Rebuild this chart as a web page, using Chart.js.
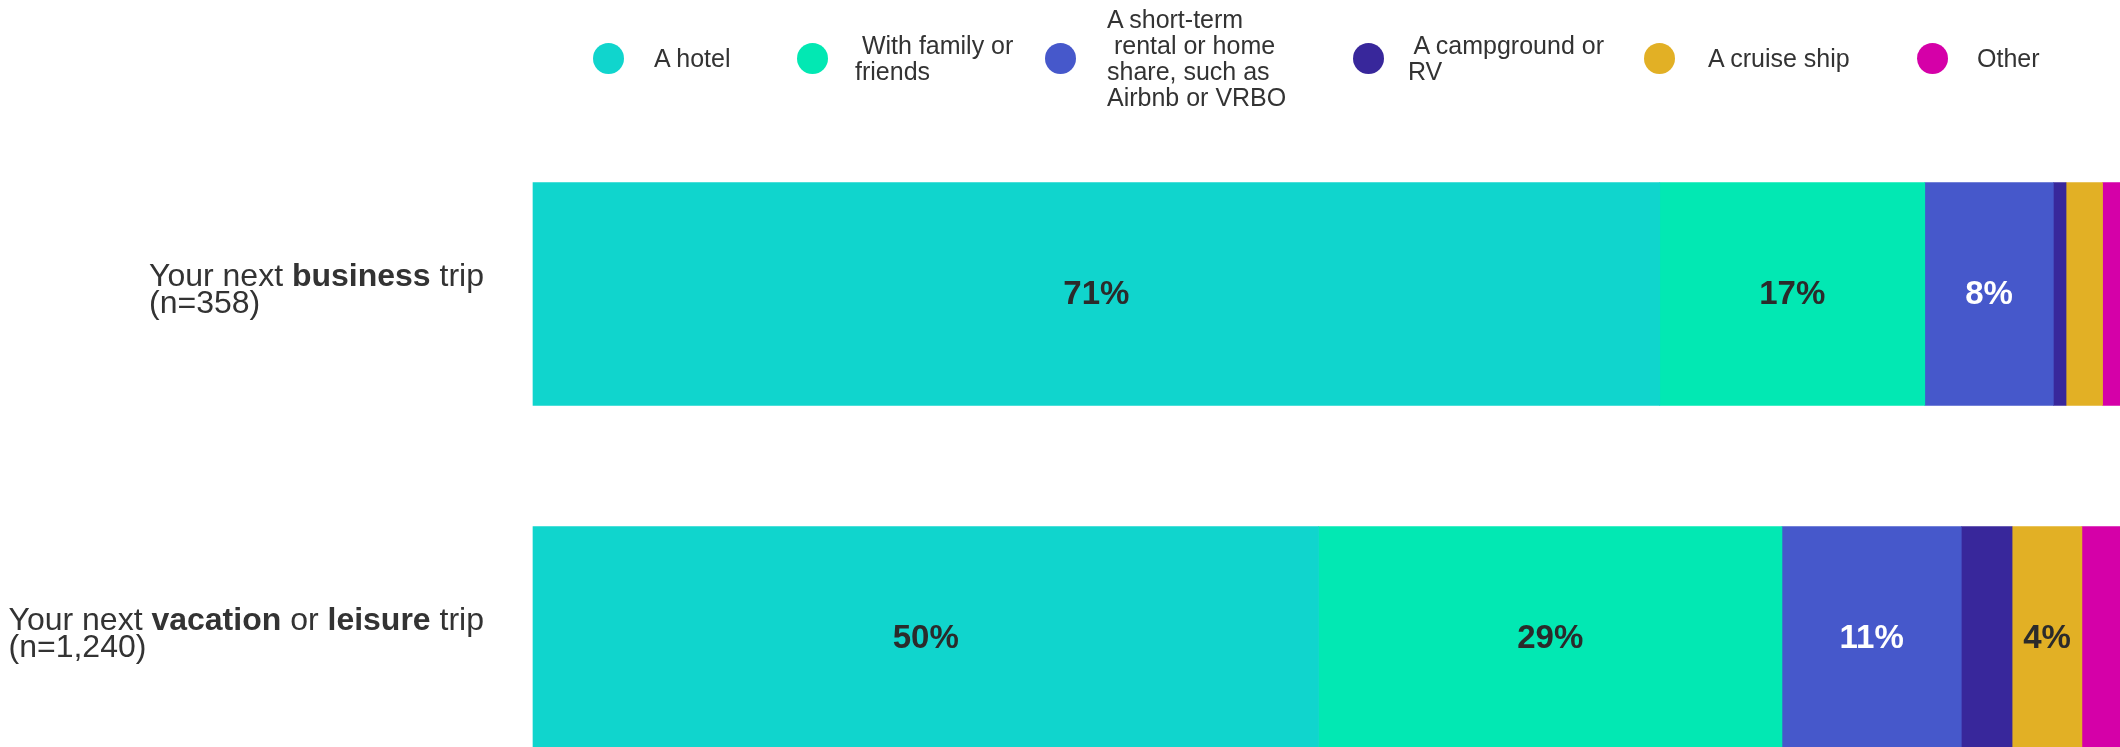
<!DOCTYPE html>
<html>
<head>
<meta charset="utf-8">
<script src="https://cdn.jsdelivr.net/npm/chart.js@4.4.1/dist/chart.umd.min.js"></script>
<style>
  html, body { margin: 0; padding: 0; background: #ffffff; overflow: hidden; }
  #wrap { position: relative; width: 2120px; height: 747px; }
  #c { position: absolute; left: 0; top: 0; }
  .lg-dot { position: absolute; width: 31px; height: 31px; border-radius: 50%; }
  .lg-text { position: absolute; font-family: "Liberation Sans", Arial, sans-serif; font-size: 25px;
             line-height: 26px; color: #333333; white-space: pre; transform: translateY(-50%); }
</style>
</head>
<body>
<div id="wrap">
  <canvas id="c" width="2120" height="747"></canvas>
  <div id="legend"></div>
</div>
<script>
// ---------- data ----------
const categories = ['Your next **business** trip', 'Your next **vacation** or **leisure** trip'];
const sampleSizes = ['(n=358)', '(n=1,240)'];
const seriesNames = ['A hotel', 'With family or friends',
  'A short-term rental or home share, such as Airbnb or VRBO', 'A campground or RV', 'A cruise ship', 'Other'];
const legendLines = [
  ['A hotel'],
  [' With family or', 'friends'],
  ['A short-term', ' rental or home', 'share, such as', 'Airbnb or VRBO'],
  [' A campground or', 'RV'],
  ['A cruise ship'],
  ['Other']
];
const hotel = [71.0, 49.5];
const familyFriends = [16.7, 29.2];
const shortTermRental = [8.1, 11.3];
const campground = [0.8, 3.2];
const cruiseShip = [2.3, 4.4];
const other = [1.1, 2.4];

// ---------- styles ----------
const colors = ['#10d5cd', '#02e8b3', '#4658cb', '#38279b', '#e2b025', '#d500a8'];
const labelColors = ['#2b2b2b', '#2b2b2b', '#ffffff', '#ffffff', '#2b2b2b', '#ffffff'];
const legendDotX = [608, 812, 1060, 1368, 1659, 1932];
const legendTextX = [654, 855, 1107, 1408, 1708, 1977];
const legendY = 58;
const FONT = '"Liberation Sans", Arial, sans-serif';

// ---------- HTML legend ----------
const lg = document.getElementById('legend');
seriesNames.forEach((name, i) => {
  const d = document.createElement('div');
  d.className = 'lg-dot';
  d.style.background = colors[i];
  d.style.left = (legendDotX[i] - 15.5) + 'px';
  d.style.top = (legendY - 15.5) + 'px';
  lg.appendChild(d);
  const t = document.createElement('div');
  t.className = 'lg-text';
  t.style.left = legendTextX[i] + 'px';
  t.style.top = legendY + 'px';
  t.textContent = legendLines[i].join('\n');
  t.title = name;
  lg.appendChild(t);
});

// ---------- plugins ----------
const valueLabels = {
  id: 'valueLabels',
  afterDatasetsDraw(chart) {
    const ctx = chart.ctx;
    ctx.save();
    ctx.font = 'bold 33px ' + FONT;
    ctx.textAlign = 'center';
    ctx.textBaseline = 'middle';
    chart.data.datasets.forEach((ds, di) => {
      const meta = chart.getDatasetMeta(di);
      meta.data.forEach((el, i) => {
        const v = ds.data[i];
        if (v < 3.5) return;
        const p = el.getProps(['x', 'y', 'base'], true);
        ctx.fillStyle = labelColors[di];
        ctx.fillText(Math.round(v) + '%', (p.x + p.base) / 2, p.y + 1);
      });
    });
    ctx.restore();
  }
};

function parseRich(s) {
  const parts = s.split('**');
  return parts.map((t, i) => ({ text: t, bold: i % 2 === 1 })).filter(p => p.text.length);
}

const categoryLabels = {
  id: 'categoryLabels',
  afterDraw(chart) {
    const ctx = chart.ctx;
    const yScale = chart.scales.y;
    const right = chart.chartArea.left - 49;
    ctx.save();
    ctx.fillStyle = '#333333';
    ctx.textBaseline = 'alphabetic';
    ctx.textAlign = 'left';
    categories.forEach((cat, i) => {
      const cy = yScale.getPixelForValue(i);
      const segs = parseRich(cat);
      let w = 0;
      segs.forEach(s => { ctx.font = (s.bold ? 'bold ' : '') + '32px ' + FONT; s.w = ctx.measureText(s.text).width; w += s.w; });
      let x = right - w;
      const x0 = x;
      segs.forEach(s => { ctx.font = (s.bold ? 'bold ' : '') + '32px ' + FONT; ctx.fillText(s.text, x, cy - 8); x += s.w; });
      ctx.font = '32px ' + FONT;
      ctx.fillText(sampleSizes[i], x0, cy + 19);
    });
    ctx.restore();
  }
};

// ---------- chart ----------
const seriesData = [hotel, familyFriends, shortTermRental, campground, cruiseShip, other];
new Chart(document.getElementById('c'), {
  type: 'bar',
  data: {
    labels: categories.map((c, i) => c.replace(/\*\*/g, '') + ' ' + sampleSizes[i]),
    datasets: seriesNames.map((n, i) => ({
      label: n,
      data: seriesData[i],
      backgroundColor: colors[i],
      borderWidth: 0,
      barThickness: 223,
      clip: false
    }))
  },
  options: {
    indexAxis: 'y',
    responsive: false,
    animation: false,
    layout: { padding: { left: 533, right: 0, top: 294, bottom: 109 } },
    plugins: { legend: { display: false }, tooltip: { enabled: false } },
    scales: {
      x: { stacked: true, min: 0, max: 100, display: false },
      y: { stacked: true, offset: false, display: false }
    }
  },
  plugins: [valueLabels, categoryLabels]
});
</script>
</body>
</html>
